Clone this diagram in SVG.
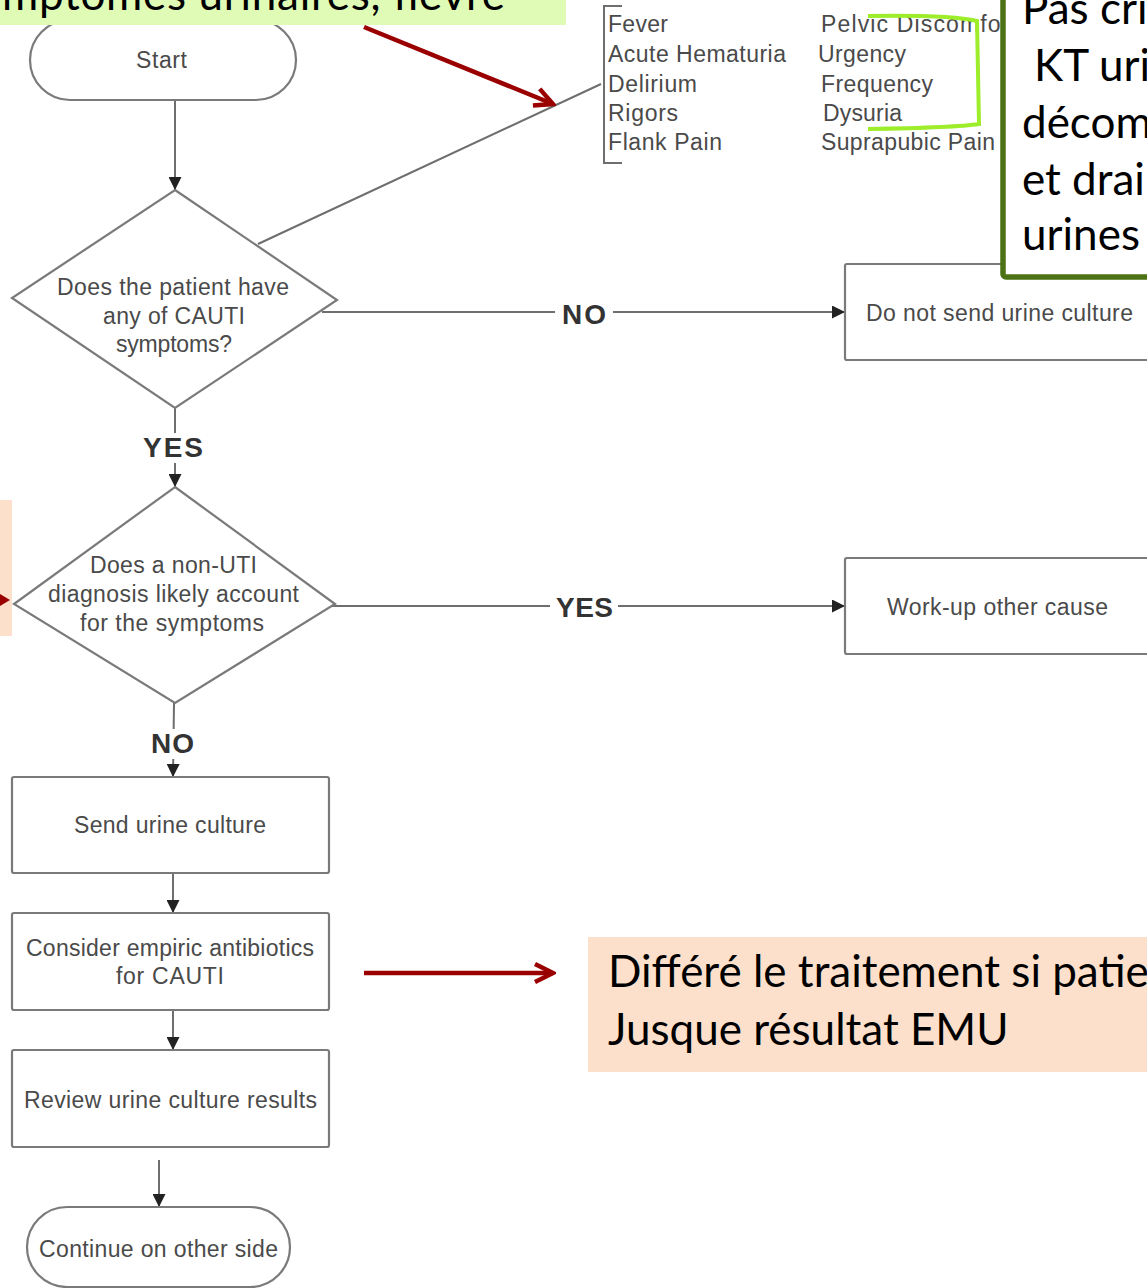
<svg xmlns="http://www.w3.org/2000/svg" width="1147" height="1288" viewBox="0 0 1147 1288">
<style>
.fc{fill:#fff;stroke:#7a7a7a;stroke-width:2.2}
.ln{fill:none;stroke:#6e6e6e;stroke-width:2}
.t{font-family:"Liberation Sans",Arial,sans-serif;font-size:23px;fill:#4a4a4a}
.lb{font-family:"Liberation Sans",Arial,sans-serif;font-size:28px;font-weight:bold;fill:#333}
.fr{font-family:Lato,"Liberation Sans",sans-serif;font-size:44px;fill:#000}
.red{fill:none;stroke:#9a0000;stroke-width:4.5}
</style>
<defs>
<marker id="ah" viewBox="0 0 10 10" refX="10" refY="5" markerWidth="14" markerHeight="13" markerUnits="userSpaceOnUse" orient="auto">
<path d="M0,0 L10,5 L0,10 z" fill="#222"/>
</marker>
<marker id="ra" viewBox="0 0 24 24" refX="21" refY="12" markerWidth="24" markerHeight="24" markerUnits="userSpaceOnUse" orient="auto">
<path d="M3,3 L21,12 L3,21" fill="none" stroke="#9a0000" stroke-width="4.5" stroke-linejoin="miter"/>
</marker>
</defs>
<rect width="1147" height="1288" fill="#fff"/>

<g id="connectors">
<line class="ln" x1="175" y1="100" x2="175" y2="190" marker-end="url(#ah)"/>
<line class="ln" x1="258" y1="244" x2="601" y2="84"/>
<line class="ln" x1="322" y1="312" x2="845" y2="312" marker-end="url(#ah)"/>
<line class="ln" x1="175" y1="408" x2="175" y2="487" marker-end="url(#ah)"/>
<line class="ln" x1="322" y1="606" x2="845" y2="606" marker-end="url(#ah)"/>
<line class="ln" x1="174" y1="703" x2="173" y2="777" marker-end="url(#ah)"/>
<line class="ln" x1="173" y1="873" x2="173" y2="913" marker-end="url(#ah)"/>
<line class="ln" x1="173" y1="1010" x2="173" y2="1050" marker-end="url(#ah)"/>
<line class="ln" x1="159" y1="1160" x2="159" y2="1207" marker-end="url(#ah)"/>
<rect x="555" y="298" width="58" height="30" fill="#fff"/>
<text class="lb" x="562" y="324" textLength="44">NO</text>
<rect x="140" y="433" width="66" height="30" fill="#fff"/>
<text class="lb" x="143" y="457" textLength="60">YES</text>
<rect x="550" y="592" width="68" height="30" fill="#fff"/>
<text class="lb" x="556" y="617" textLength="57">YES</text>
<rect x="147" y="729" width="52" height="30" fill="#fff"/>
<text class="lb" x="151" y="753" textLength="43">NO</text>
</g>

<g id="start">
<rect class="fc" x="30" y="20" width="266" height="80" rx="40"/>
<text class="t" x="136" y="68" textLength="51">Start</text>
</g>

<g id="symptoms">
<path class="ln" d="M622,6 H604 V163 H622"/>
<text class="t" x="608" y="32" textLength="60">Fever</text>
<text class="t" x="608" y="62" textLength="178">Acute Hematuria</text>
<text class="t" x="608" y="92" textLength="89">Delirium</text>
<text class="t" x="608" y="121" textLength="70">Rigors</text>
<text class="t" x="608" y="150" textLength="114">Flank Pain</text>
<text class="t" x="821" y="32" textLength="196">Pelvic Discomfort</text>
<text class="t" x="818" y="62" textLength="88">Urgency</text>
<text class="t" x="821" y="92" textLength="112">Frequency</text>
<text class="t" x="823" y="121" textLength="79">Dysuria</text>
<text class="t" x="821" y="150" textLength="174">Suprapubic Pain</text>
</g>

<g id="bracket-green">
<path d="M868,16 C930,15 960,17 977,21 L979,124 C960,127 930,128 868,129" fill="none" stroke="#9ded2a" stroke-width="4"/>
</g>

<g id="q1">
<polygon class="fc" points="175,190 337,300 175,408 12,298"/>
<text class="t" x="57" y="295" textLength="232">Does the patient have</text>
<text class="t" x="103" y="324" textLength="142">any of CAUTI</text>
<text class="t" x="116" y="352" textLength="116">symptoms?</text>
</g>

<g id="no-culture">
<rect class="fc" x="845" y="264" width="320" height="96" rx="2"/>
<text class="t" x="866" y="321" textLength="267">Do not send urine culture</text>
</g>

<g id="q2">
<polygon class="fc" points="175,487 335,604 175,703 14,604"/>
<text class="t" x="90" y="573" textLength="167">Does a non-UTI</text>
<text class="t" x="48" y="602" textLength="251">diagnosis likely account</text>
<text class="t" x="80" y="631" textLength="184">for the symptoms</text>
</g>

<g id="workup">
<rect class="fc" x="845" y="558" width="320" height="96" rx="2"/>
<text class="t" x="887" y="615" textLength="221">Work-up other cause</text>
</g>

<g id="send">
<rect class="fc" x="12" y="777" width="317" height="96" rx="2"/>
<text class="t" x="74" y="833" textLength="192">Send urine culture</text>
</g>

<g id="consider">
<rect class="fc" x="12" y="913" width="317" height="97" rx="2"/>
<text class="t" x="26" y="956" textLength="288">Consider empiric antibiotics</text>
<text class="t" x="116" y="984" textLength="108">for CAUTI</text>
</g>

<g id="review">
<rect class="fc" x="12" y="1050" width="317" height="97" rx="2"/>
<text class="t" x="24" y="1108" textLength="293">Review urine culture results</text>
</g>

<g id="continue">
<rect class="fc" x="27" y="1207" width="263" height="80" rx="40"/>
<text class="t" x="39" y="1257" textLength="239">Continue on other side</text>
</g>

<g id="note-top">
<rect x="0" y="-10" width="566" height="35" fill="#dffbb6"/>
<text class="fr" x="2" y="10" textLength="503">mptômes urinaires, fièvre</text>
</g>

<g id="note-right">
<rect x="1003" y="-10" width="200" height="287" rx="3" fill="#fff" stroke="#4b7313" stroke-width="5.5"/>
<text class="fr" x="1022" y="24">Pas cri</text>
<text class="fr" x="1034" y="81">KT uri</text>
<text class="fr" x="1022" y="138">décom</text>
<text class="fr" x="1022" y="195">et drai</text>
<text class="fr" x="1022" y="250">urines</text>
</g>

<g id="note-left">
<rect x="0" y="500" width="12" height="136" fill="#fde0cb"/>
<path d="M0,594 L10,600 L0,606 z" fill="#9a0000"/>
</g>

<g id="note-bottom">
<rect x="588" y="937" width="580" height="135" fill="#fde0cb"/>
<text class="fr" x="608" y="987">Différé le traitement si patie</text>
<text class="fr" x="608" y="1045">Jusque résultat EMU</text>
</g>

<g id="red-arrows">
<line class="red" x1="364" y1="27" x2="553" y2="104" marker-end="url(#ra)"/>
<line class="red" x1="364" y1="973" x2="553" y2="973" marker-end="url(#ra)"/>
</g>
</svg>
